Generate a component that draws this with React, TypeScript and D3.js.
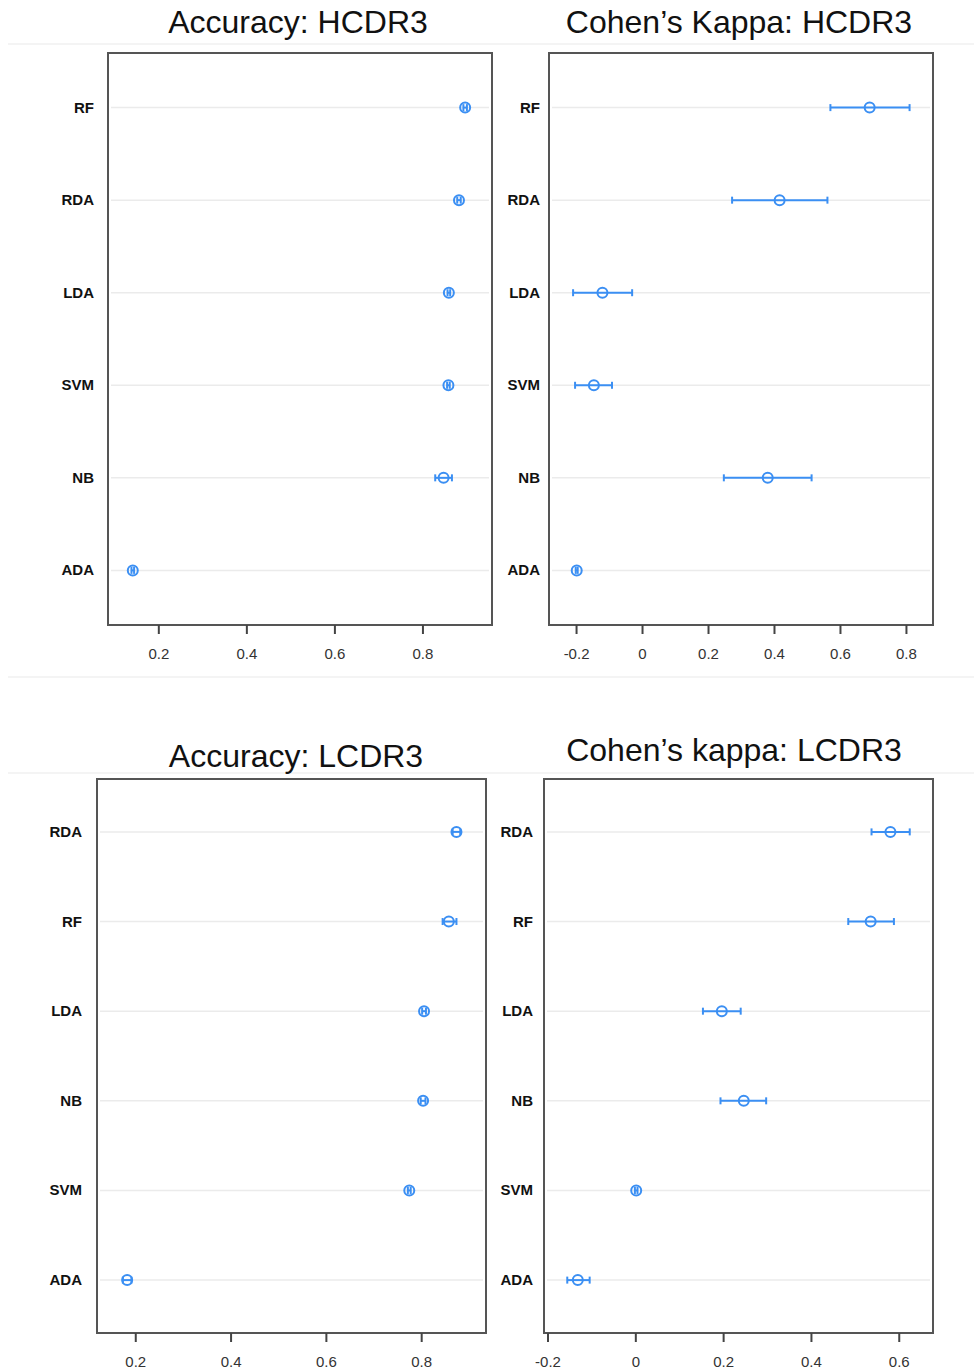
import { useEffect, useRef } from 'react';
import * as d3 from 'd3';

// HCDR3 panels (top row)
const modelsH = ['RF', 'RDA', 'LDA', 'SVM', 'NB', 'ADA'];
const accH = [0.897, 0.883, 0.86, 0.859, 0.848, 0.142];
const accHLo = [0.893, 0.879, 0.857, 0.856, 0.829, 0.139];
const accHHi = [0.901, 0.887, 0.863, 0.862, 0.867, 0.145];
const kapH = [0.69, 0.417, -0.12, -0.146, 0.381, -0.198];
const kapHLo = [0.571, 0.273, -0.209, -0.203, 0.248, -0.201];
const kapHHi = [0.811, 0.562, -0.03, -0.091, 0.514, -0.195];

// LCDR3 panels (bottom row)
const modelsL = ['RDA', 'RF', 'LDA', 'NB', 'SVM', 'ADA'];
const accL = [0.874, 0.858, 0.806, 0.804, 0.775, 0.183];
const accLLo = [0.866, 0.845, 0.802, 0.799, 0.772, 0.174];
const accLHi = [0.882, 0.874, 0.81, 0.809, 0.778, 0.192];
const kapL = [0.581, 0.536, 0.197, 0.247, 0.002, -0.131];
const kapLLo = [0.538, 0.485, 0.154, 0.194, -0.001, -0.155];
const kapLHi = [0.625, 0.589, 0.24, 0.298, 0.005, -0.104];

const accTicks = [0.2, 0.4, 0.6, 0.8];
const kapTicksH = [-0.2, 0, 0.2, 0.4, 0.6, 0.8];
const kapTicksL = [-0.2, 0, 0.2, 0.4, 0.6];

const BLUE = '#3b8ff3';
const FONT = '"Liberation Sans", Arial, Helvetica, sans-serif';

// R-style labels: plain hyphen, no trailing zeros
const fmt = (d: number) => String(+d.toFixed(1));

export default function App() {
  const ref = useRef<SVGSVGElement>(null);

  useEffect(() => {
    if (!ref.current) return;
    const svg = d3.select(ref.current);
    svg.selectAll('*').remove();

    // faint separators from the pasted figure
    [44, 677, 773].forEach((y) => {
      svg.append('line').attr('x1', 8).attr('x2', 974).attr('y1', y).attr('y2', y)
        .attr('stroke', '#f0f0f0').attr('stroke-width', 1.5);
    });

    const panels = [
      { title: 'Accuracy: HCDR3', tx: 298, ty: 33, x0: 108, x1: 492, y0: 53, y1: 625, lg: 14,
        dom: [0.0857, 0.958], ticks: accTicks, models: modelsH, v: accH, lo: accHLo, hi: accHHi },
      { title: 'Cohen\u2019s Kappa: HCDR3', tx: 739, ty: 33, x0: 549, x1: 933, y0: 53, y1: 625, lg: 9,
        dom: [-0.282, 0.882], ticks: kapTicksH, models: modelsH, v: kapH, lo: kapHLo, hi: kapHHi },
      { title: 'Accuracy: LCDR3', tx: 296, ty: 767, x0: 97, x1: 486, y0: 779, y1: 1333, lg: 15,
        dom: [0.1197, 0.936], ticks: accTicks, models: modelsL, v: accL, lo: accLLo, hi: accLHi },
      { title: 'Cohen\u2019s kappa: LCDR3', tx: 734, ty: 761, x0: 544, x1: 933, y0: 779, y1: 1333, lg: 11,
        dom: [-0.208, 0.678], ticks: kapTicksL, models: modelsL, v: kapL, lo: kapLLo, hi: kapLHi },
    ];

    panels.forEach((p) => {
      const x = d3.scaleLinear().domain(p.dom).range([p.x0, p.x1]);
      const y = d3.scalePoint().domain(p.models).range([p.y0, p.y1]).padding(0.59);
      const g = svg.append('g');

      g.append('text').attr('x', p.tx).attr('y', p.ty).attr('text-anchor', 'middle')
        .attr('font-family', FONT).attr('font-size', 32).attr('fill', '#111').text(p.title);

      // grid lines per model
      g.selectAll('line.grid').data(p.models).enter().append('line')
        .attr('x1', p.x0 + 3).attr('x2', p.x1 - 3)
        .attr('y1', (d) => y(d)!).attr('y2', (d) => y(d)!)
        .attr('stroke', '#ebebeb').attr('stroke-width', 1.5);

      g.append('rect').attr('x', p.x0).attr('y', p.y0)
        .attr('width', p.x1 - p.x0).attr('height', p.y1 - p.y0)
        .attr('fill', 'none').attr('stroke', '#555').attr('stroke-width', 2);

      // x axis
      const ax = g.append('g').attr('transform', `translate(0,${p.y1})`)
        .call(d3.axisBottom(x).tickValues(p.ticks).tickSize(9).tickPadding(14)
          .tickFormat((d) => fmt(d as number)));
      ax.select('.domain').remove();
      ax.selectAll('line').attr('stroke', '#444').attr('stroke-width', 2);
      ax.selectAll('text').attr('font-family', FONT).attr('font-size', 15).attr('fill', '#333');

      // model labels
      g.selectAll('text.lab').data(p.models).enter().append('text')
        .attr('x', p.x0 - p.lg).attr('y', (d) => y(d)! + 5)
        .attr('text-anchor', 'end').attr('font-family', FONT)
        .attr('font-weight', 700).attr('font-size', 15).attr('fill', '#111')
        .text((d) => d);

      // error bars + points
      p.models.forEach((m, i) => {
        const cy = y(m)!;
        const eb = g.append('g').attr('stroke', BLUE).attr('stroke-width', 2);
        eb.append('line').attr('x1', x(p.lo[i])).attr('x2', x(p.hi[i])).attr('y1', cy).attr('y2', cy);
        [p.lo[i], p.hi[i]].forEach((e) => {
          eb.append('line').attr('x1', x(e)).attr('x2', x(e)).attr('y1', cy - 3.5).attr('y2', cy + 3.5);
        });
        g.append('circle').attr('cx', x(p.v[i])).attr('cy', cy).attr('r', 5)
          .attr('fill', 'none').attr('stroke', BLUE).attr('stroke-width', 2);
      });
    });
  }, []);

  return (
    <svg ref={ref} width={974} height={1371}
      style={{ position: 'absolute', left: 0, top: 0, background: '#fff' }} />
  );
}
